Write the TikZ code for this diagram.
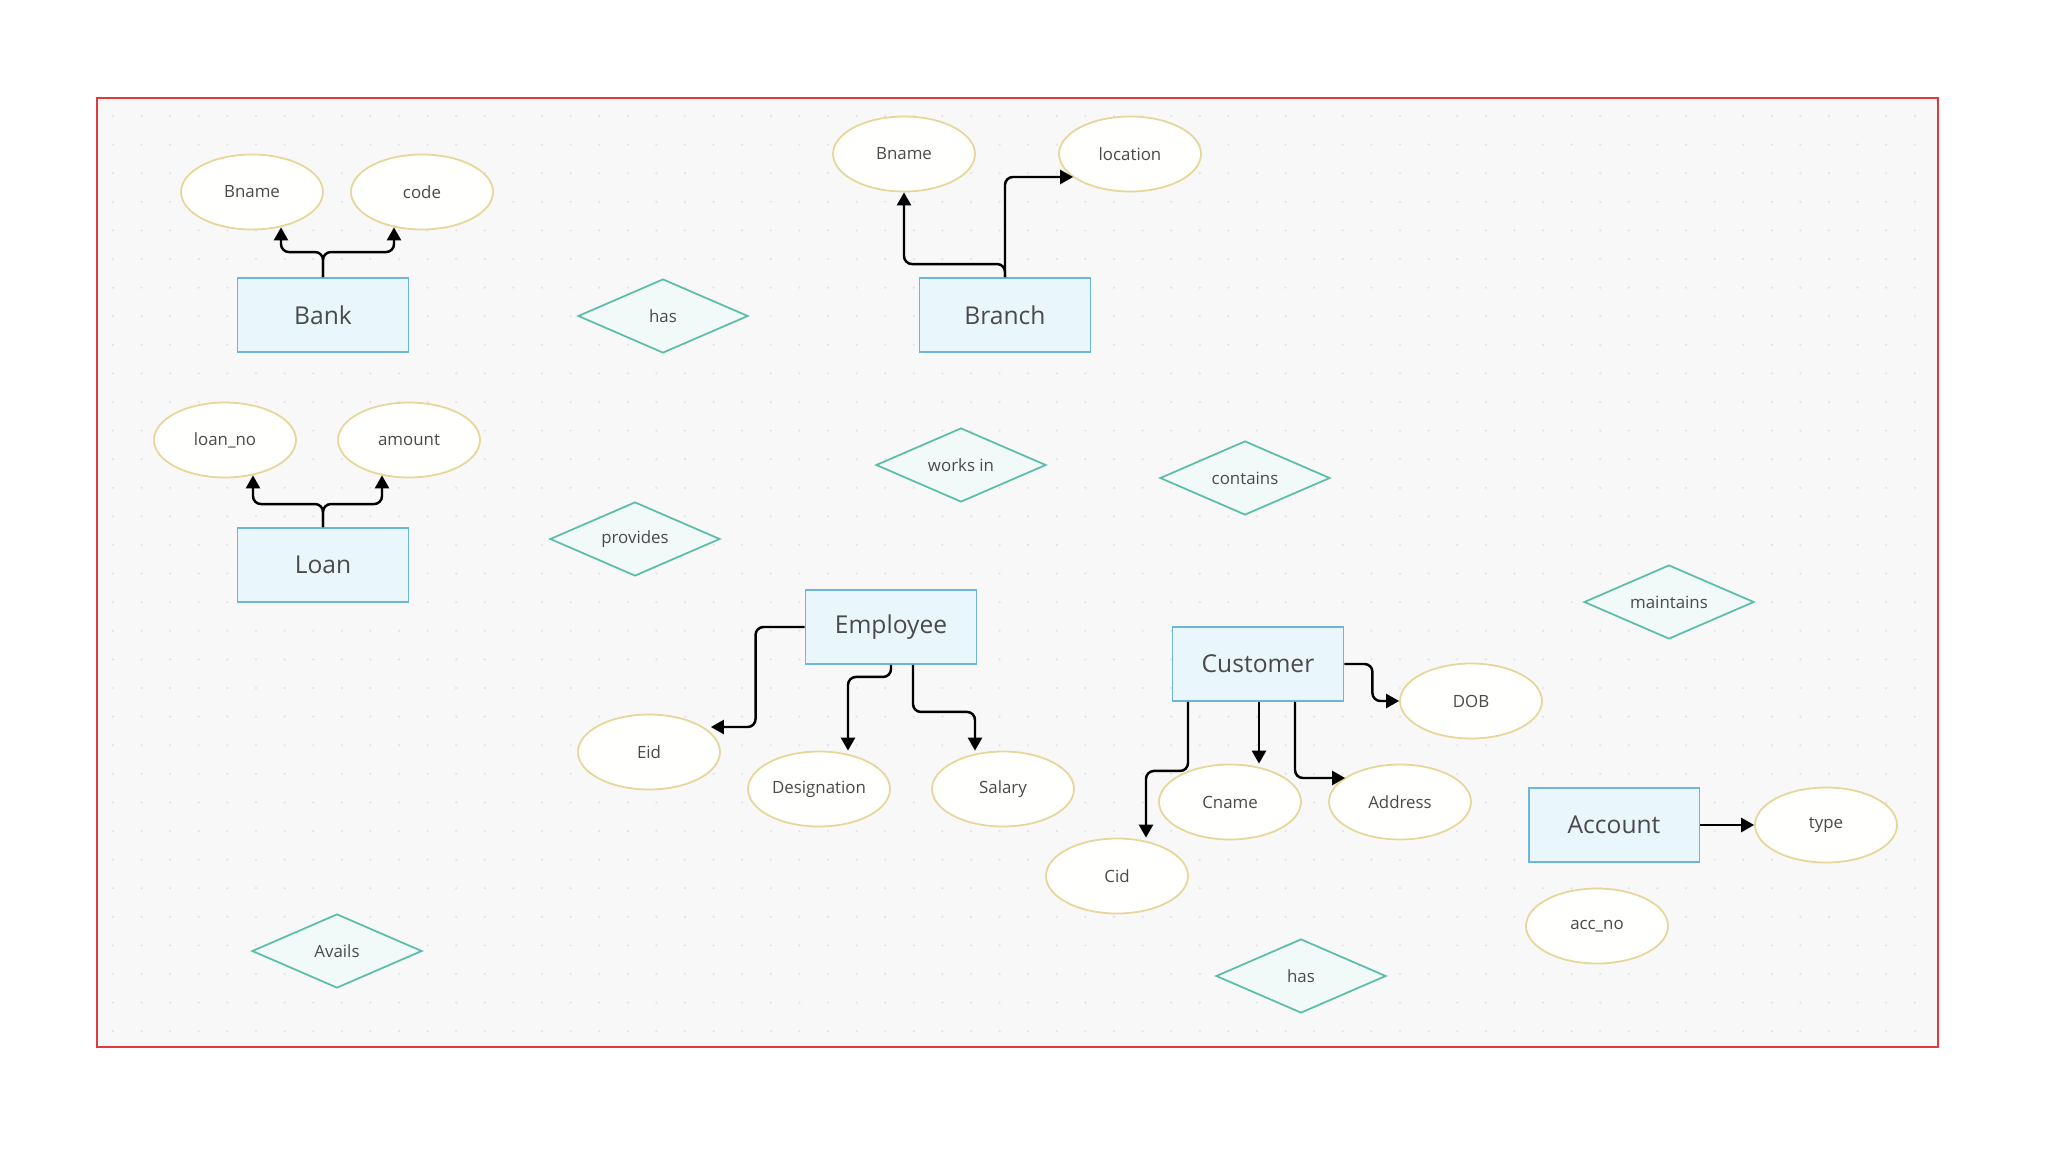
\documentclass[tikz,border=0pt]{standalone}
\usepackage{fontspec}
\setmainfont{Open Sans}
\usetikzlibrary{shapes.geometric,arrows.meta,calc}
\definecolor{entfill}{HTML}{E9F6FC}
\definecolor{entline}{HTML}{6CB6DA}
\definecolor{attline}{HTML}{E6D69A}
\definecolor{attfill}{HTML}{FFFFFD}
\definecolor{relline}{HTML}{5CBDAA}
\definecolor{relfill}{HTML}{F1FAF8}
\definecolor{txt}{HTML}{4A4A4A}
\definecolor{paper}{HTML}{F8F8F8}
\definecolor{framec}{HTML}{E0393E}
\begin{document}
\begin{tikzpicture}[x=0.02cm,y=-0.02cm,
  entity/.style={rectangle, draw=entline, fill=entfill, line width=1.1pt,
    minimum width=3.42cm, minimum height=1.48cm, text=txt, font=\fontsize{14}{16}\selectfont},
  attr/.style={ellipse, draw=attline, fill=attfill, line width=1pt, inner sep=0.5pt,
    minimum width=2.84cm, minimum height=1.5cm, text=txt, font=\fontsize{9.6}{12}\selectfont},
  rel/.style={diamond, draw=relline, fill=relfill, line width=1pt, inner sep=0pt, aspect=2.3,
    minimum width=3.4cm, minimum height=1.48cm, text=txt, font=\fontsize{9.6}{12}\selectfont},
  conn/.style={line width=1.4pt, rounded corners=4.5pt, -{Triangle[length=0.26cm,width=0.28cm]}}]
  \useasboundingbox (0,0) rectangle (2048,1152);
  \fill[white] (0,0) rectangle (2048,1152);
  \fill[paper] (97,98) rectangle (1938,1047);
  % dotted grid
  \foreach \i in {0,...,63}
    \foreach \j in {0,...,32}
      \fill[gray!22] (113+\i*28.6,116+\j*28.6) circle[radius=0.7pt];
  \draw[framec, line width=0.9pt] (97,98) rectangle (1938,1047);

  % entities
  \node[entity] (bank) at (323,315) {Bank};
  \node[entity] (branch) at (1005,315) {Branch};
  \node[entity] (loan) at (323,565) {Loan};
  \node[entity] (emp) at (891,627) {Employee};
  \node[entity] (cust) at (1258,664) {Customer};
  \node[entity] (acct) at (1614,825) {Account};

  % attributes
  \node[attr] (bname1) at (252,192) {Bname};
  \node[attr] (code) at (422,192) {code};
  \node[attr] (bname2) at (904,154) {Bname};
  \node[attr] (loc) at (1130,154) {location};
  \node[attr] (loanno) at (225,440) {loan\_no};
  \node[attr] (amount) at (409,440) {amount};
  \node[attr] (eid) at (649,752) {Eid};
  \node[attr] (desig) at (819,789) {Designation};
  \node[attr] (salary) at (1003,789) {Salary};
  \node[attr] (dob) at (1471,701) {DOB};
  \node[attr] (cname) at (1230,802) {Cname};
  \node[attr] (addr) at (1400,802) {Address};
  \node[attr] (cid) at (1117,876) {Cid};
  \node[attr] (type) at (1826,825) {type};
  \node[attr] (accno) at (1597,926) {acc\_no};

  % relationships
  \node[rel] (has1) at (663,316) {has};
  \node[rel] (worksin) at (961,465) {works in};
  \node[rel] (contains) at (1245,478) {contains};
  \node[rel] (provides) at (635,539) {provides};
  \node[rel] (maintains) at (1669,602) {maintains};
  \node[rel] (avails) at (337,951) {Avails};
  \node[rel] (has2) at (1301,976) {has};

  % connectors
  \draw[conn] (bank.north) -- ++(0,-25) -| ($(bname1.south)+(29,-3)$);
  \draw[conn] (bank.north) -- ++(0,-25) -| ($(code.south)+(-28,-3)$);
  \draw[conn] (branch.north) -- ++(0,-13) -| (bname2.south);
  \draw[conn] (branch.north) |- ($(loc.west)+(15,23)$);
  \draw[conn] (loan.north) -- ++(0,-23) -| ($(loanno.south)+(28,-3)$);
  \draw[conn] (loan.north) -- ++(0,-23) -| ($(amount.south)+(-27,-3)$);
  \draw[conn] (emp.west) -- ++(-49,0) |- ($(eid.east)+(-10,-25)$);
  \draw[conn] (emp.south) -- ++(0,12) -| ($(desig.north)+(29,0)$);
  \draw[conn] ($(emp.south)+(22,0)$) -- ++(0,47) -| ($(salary.north)+(-28,0)$);
  \draw[conn] (cust.east) -- ++(28,0) |- (dob.west);
  \draw[conn] ($(cust.south)+(-70,0)$) -- ++(0,69) -| ($(cid.north)+(29,0)$);
  \draw[conn] ($(cust.south)+(1,0)$) -- ($(cname.north)+(29,0)$);
  \draw[conn] ($(cust.south)+(37,0)$) |- ($(addr.west)+(17,-24)$);
  \draw[conn] (acct.east) -- (type.west);
\end{tikzpicture}
\end{document}
